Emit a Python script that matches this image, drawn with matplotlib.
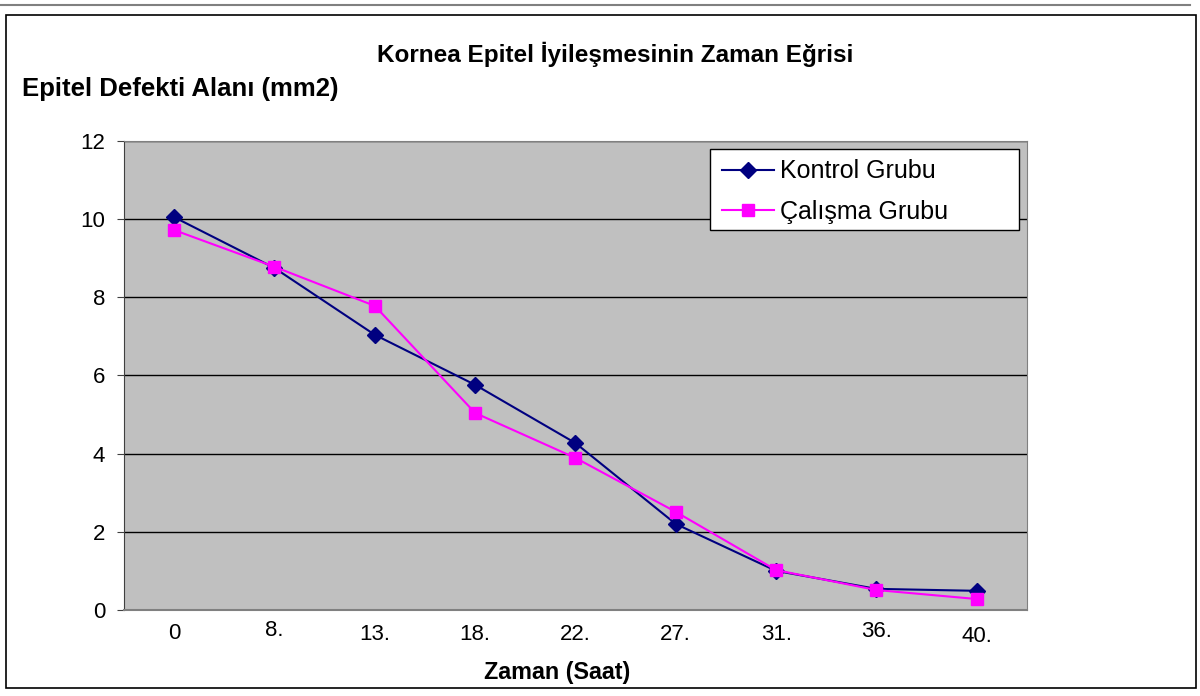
import matplotlib.pyplot as plt
import matplotlib.transforms as mtransforms
from matplotlib.patches import Rectangle

plt.rcParams['font.family'] = ['Liberation Sans', 'DejaVu Sans']

# data
saat = ["0", "8.", "13.", "18.", "22.", "27.", "31.", "36.", "40."]
kontrol = [10.05, 8.75, 7.04, 5.76, 4.27, 2.2, 1.0, 0.54, 0.49]
calisma = [9.72, 8.78, 7.78, 5.04, 3.89, 2.51, 1.02, 0.51, 0.28]

fig = plt.figure(figsize=(12, 6.96), dpi=100)
ax = fig.add_axes([0.1033, 0.1236, 0.7525, 0.6739])
ax.set_facecolor("#C0C0C0")

x = list(range(len(saat)))
ax.plot(x, kontrol, color="#000080", marker="D", markersize=8.5, linewidth=1.5,
        label="Kontrol Grubu")
ax.plot(x, calisma, color="#FF00FF", marker="s", markersize=8.5, linewidth=1.5,
        label="Çalışma Grubu")

ax.set_xlim(-0.5, len(saat) - 0.5)
ax.set_ylim(0, 12)
ax.set_yticks(range(0, 13, 2))
ax.set_xticks(x)
ax.set_xticklabels(saat)
ax.tick_params(axis="both", labelsize=16)
ax.tick_params(axis="x", length=0, pad=10)
ax.tick_params(axis="y", length=5, pad=8.5, color="#404040")
ax.grid(axis="y", color="black", linewidth=1)
ax.set_axisbelow(True)
for side in ["top", "right", "bottom"]:
    ax.spines[side].set_color("#808080")
ax.spines["left"].set_color("#404040")
ax.spines["bottom"].set_linewidth(1.5)

# the labels in the original sit at slightly uneven heights
shifts = [-1, -4, 0, 0, 0, 0, 0, -3, 2.5]
for lab, dy in zip(ax.get_xticklabels(), shifts):
    off = mtransforms.ScaledTranslation(0, -dy / 100, fig.dpi_scale_trans)
    lab.set_transform(lab.get_transform() + off)

ax.set_xlabel("Zaman (Saat)", fontsize=16.8, fontweight="bold")
ax.xaxis.set_label_coords(0.4795, -0.108)
fig.text(0.513, 0.922, "Kornea Epitel İyileşmesinin Zaman Eğrisi",
         ha="center", va="center", fontsize=17.5, fontweight="bold")
fig.text(0.0183, 0.872, "Epitel Defekti Alanı (mm2)",
         ha="left", va="center", fontsize=18.5, fontweight="bold")

# legend box, wider than its text as in the original
fig.patches.append(Rectangle((0.5917, 0.6695), 0.2575, 0.1164, transform=fig.transFigure,
                             facecolor="white", edgecolor="black", linewidth=1, zorder=3))
leg = fig.legend(loc="upper left", bbox_to_anchor=(0.5868, 0.796), fontsize=18,
                 frameon=False, borderpad=0.2, labelspacing=0.66,
                 handlelength=2.1, handletextpad=0.25)
leg.set_zorder(4)

# chart area border
fig.patches.append(Rectangle((0.005, 0.012), 0.992, 0.966, transform=fig.transFigure,
                             fill=False, edgecolor="black", linewidth=1.2))
fig.lines.append(plt.Line2D([0.0, 0.992], [0.993, 0.993], transform=fig.transFigure,
                            color="#808080", linewidth=1.5))

fig.savefig("out.png", dpi=100)
